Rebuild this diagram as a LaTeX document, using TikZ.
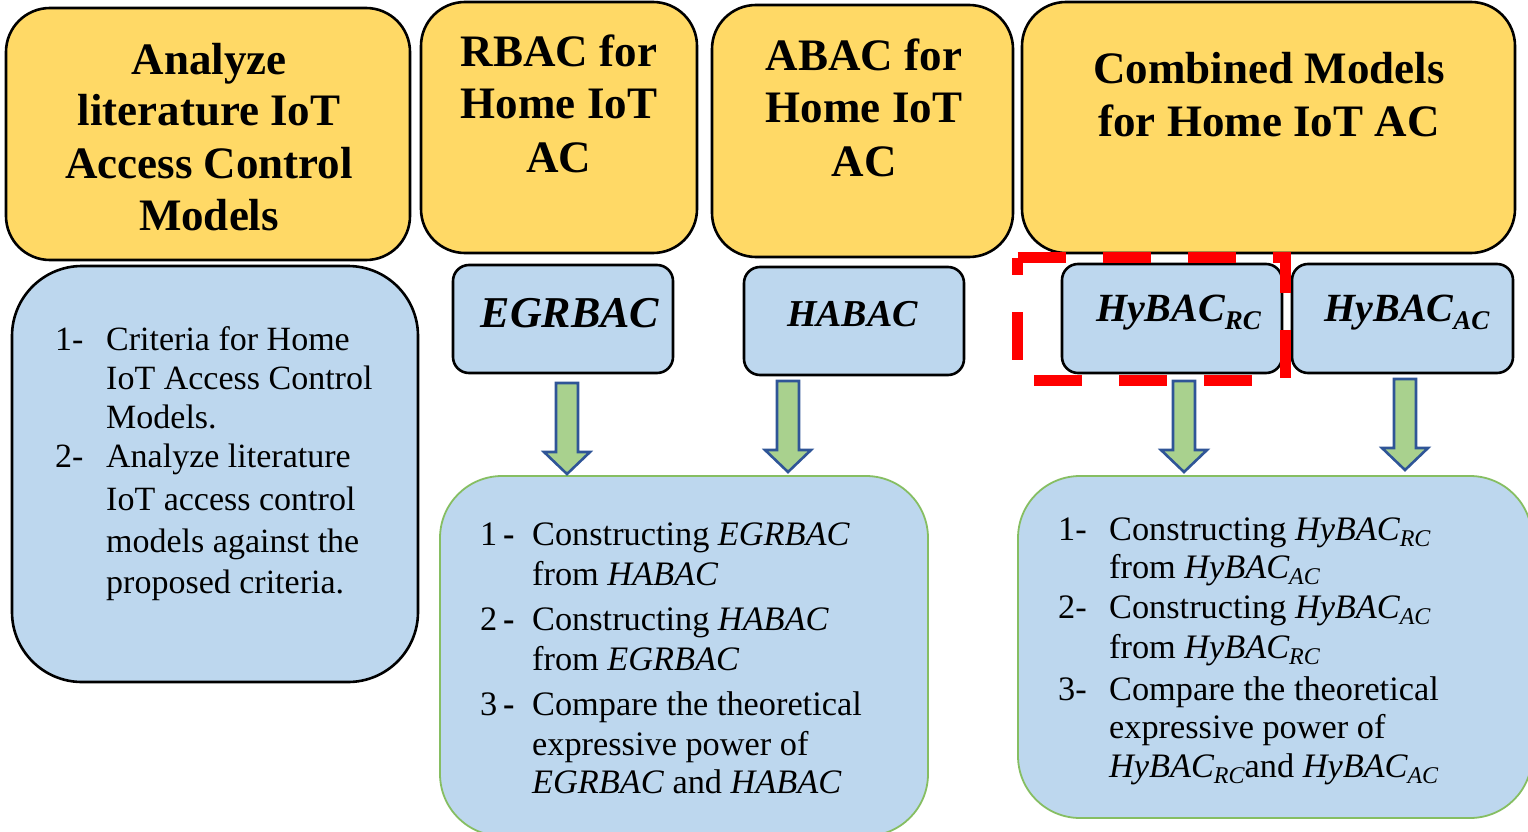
\documentclass[tikz,border=0pt]{standalone}
\usepackage{fontspec}
\newfontfamily\lserif{Liberation Serif}
\definecolor{ylw}{HTML}{FFD966}
\definecolor{lblue}{HTML}{BDD7EE}
\definecolor{agreen}{HTML}{A9D18E}
\definecolor{aedge}{HTML}{2F5597}
\definecolor{gedge}{HTML}{86BE62}
\definecolor{dashred}{HTML}{FF0000}
\newcommand\nm[1]{\textit{#1}}
\newcommand\hyb[2]{\textit{HyBAC\raisebox{-0.2em}{\fontsize{#2}{#2}\selectfont #1}}}
\newcommand\itemno[1]{#1\,{\bfseries -}}
\tikzset{
  basebox/.style={rectangle, inner sep=0pt, outer sep=0pt},
  headbox/.style={basebox, draw=black, line width=2.6pt, fill=ylw, rounded corners=44pt},
  leftbox/.style={basebox, draw=black, line width=2.6pt, fill=lblue, rounded corners=70pt},
  modelbox/.style={basebox, draw=black, line width=2.6pt, fill=lblue, rounded corners=16pt},
  stepsbox/.style={basebox, draw=gedge, line width=1.8pt, fill=lblue, rounded corners=62pt},
  headtext/.style={inner sep=0pt, anchor=base, font=\lserif\fontsize{45}{52}\selectfont\bfseries},
  modeltext/.style={inner sep=0pt, anchor=base, font=\lserif\fontsize{40}{46}\selectfont\bfseries\itshape},
  listtext/.style={inner sep=0pt, anchor=base west, font=\lserif\fontsize{34.3}{40}\selectfont},
  lefttext/.style={inner sep=0pt, anchor=base west, font=\lserif\fontsize{34}{39}\selectfont},
  blockarrow/.style={draw=aedge, fill=agreen, line width=2.6pt, line join=miter},
  downblock/.pic={
    \path[blockarrow] (-11,0) -- (-11,69) -- (-23,69) -- (0,91) -- (23,69)
      -- (11,69) -- (11,0) -- cycle;
  },
  highlight/.style={draw=dashred, line width=11pt, dash pattern=on 48pt off 37pt}
}
\begin{document}
\begin{tikzpicture}[x=1pt,y=-1pt]
\useasboundingbox (0,0) rectangle (1528,832);
\clip (0,0) rectangle (1528,832);

% top row: research stages
\node[headbox, minimum width=404pt, minimum height=252pt] (lit) at (208,134) {};
\node[headbox, minimum width=276pt, minimum height=251pt] (rbac) at (559,127.5) {};
\node[headbox, minimum width=301pt, minimum height=252pt] (abac) at (862.5,131) {};
\node[headbox, minimum width=493pt, minimum height=251pt] (comb) at (1268.5,127.5) {};

% second row: criteria and models
\node[leftbox, minimum width=406pt, minimum height=416pt] (crit) at (215,474) {};
\node[modelbox, minimum width=220pt, minimum height=108pt] (egrbac) at (563,319) {};
\node[modelbox, minimum width=220pt, minimum height=108pt] (habac) at (854,321) {};
\node[modelbox, minimum width=220pt, minimum height=109pt] (hyrc) at (1172,318.5) {};
\node[modelbox, minimum width=221pt, minimum height=109pt] (hyac) at (1402.5,318.5) {};

% bottom row: work items
\node[stepsbox, minimum width=488pt, minimum height=360pt] (singles) at (684,656) {};
\node[stepsbox, minimum width=514pt, minimum height=342pt] (hybrids) at (1275,647) {};

% arrows from the models to the work items
\pic (a1) at (567,383) {downblock};
\pic (a2) at (788,381) {downblock};
\pic (a3) at (1184,381) {downblock};
\pic (a4) at (1405,379) {downblock};

% highlighted model
\path[highlight] (1017.5,257.5) -- (1285.5,257.5) -- (1285.5,380.5) -- (1017.5,380.5) -- cycle;

% headings
\node[headtext] (lit1) at (209,75) {Analyze};
\node[headtext] (lit2) at (209,126) {literature IoT};
\node[headtext] (lit3) at (209,178) {Access Control};
\node[headtext] (lit4) at (209,230) {Models};
\node[headtext] (rb1) at (559,67) {RBAC for};
\node[headtext] (rb2) at (559,119) {Home IoT};
\node[headtext] (rb3) at (559,172) {AC};
\node[headtext] (ab1) at (864,71) {ABAC for};
\node[headtext] (ab2) at (864,123) {Home IoT};
\node[headtext] (ab3) at (864,176) {AC};
\node[headtext] (cm1) at (1269,84) {Combined Models};
\node[headtext] (cm2) at (1269,137) {for Home IoT AC};

% model names
\node[modeltext, font=\lserif\fontsize{44}{50}\selectfont\bfseries\itshape] (t1) at (570,327) {EGRBAC};
\node[modeltext, font=\lserif\fontsize{38}{44}\selectfont\bfseries\itshape] (t2) at (852.5,326) {HABAC};
\node[modeltext] (t3) at (1178.5,321) {\hyb{RC}{27}};
\node[modeltext] (t4) at (1407,321) {\hyb{AC}{27}};

% criteria list
\node[lefttext] (n1) at (55,350) {1-};
\node[lefttext] (c1) at (106,350) {Criteria for Home};
\node[lefttext] (c2) at (106,389) {IoT Access Control};
\node[lefttext] (c3) at (106,428) {Models.};
\node[lefttext] (n2) at (55,467) {2-};
\node[lefttext] (c4) at (106,467) {Analyze literature};
\node[lefttext] (c5) at (106,510) {IoT access control};
\node[lefttext] (c6) at (106,552) {models against the};
\node[lefttext] (c7) at (106,593) {proposed criteria.};

% single-model work items
\node[listtext] (m1) at (480,545) {\itemno{1}};
\node[listtext] (s1) at (532,545) {Constructing \nm{EGRBAC}};
\node[listtext] (s2) at (532,585) {from \nm{HABAC}};
\node[listtext] (m2) at (480,630) {\itemno{2}};
\node[listtext] (s3) at (532,630) {Constructing \nm{HABAC}};
\node[listtext] (s4) at (532,670) {from \nm{EGRBAC}};
\node[listtext] (m3) at (480,715) {\itemno{3}};
\node[listtext] (s5) at (532,715) {Compare the theoretical};
\node[listtext] (s6) at (532,755) {expressive power of};
\node[listtext] (s7) at (532,793) {\nm{EGRBAC} and \nm{HABAC}};

% combined-model work items
\node[listtext] (k1) at (1058,540) {1-};
\node[listtext] (h1) at (1109,540) {Constructing \hyb{RC}{24}};
\node[listtext] (h2) at (1109,578) {from \hyb{AC}{24}};
\node[listtext] (k2) at (1058,618) {2-};
\node[listtext] (h3) at (1109,618) {Constructing \hyb{AC}{24}};
\node[listtext] (h4) at (1109,658) {from \hyb{RC}{24}};
\node[listtext] (k3) at (1058,700) {3-};
\node[listtext] (h5) at (1109,700) {Compare the theoretical};
\node[listtext] (h6) at (1109,738) {expressive power of};
\node[listtext] (h7) at (1109,777) {\hyb{RC}{24}and \hyb{AC}{24}};
\end{tikzpicture}
\end{document}
